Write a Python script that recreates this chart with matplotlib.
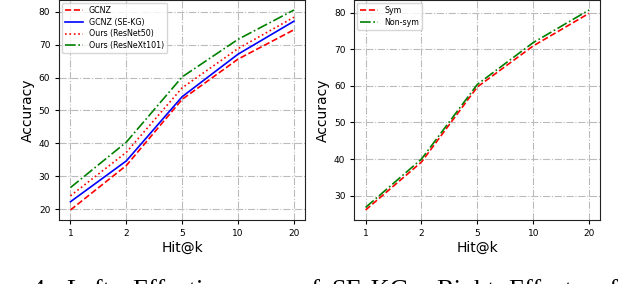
import matplotlib.pyplot as plt

hits = ['1', '2', '5', '10', '20']

gcnz = [19.8, 33.3, 53.4, 65.6, 74.5]
gcnz_sekg = [22.3, 34.7, 54.2, 67.1, 77.1]
ours_r50 = [24.1, 37.3, 56.9, 68.8, 78.3]
ours_rx101 = [26.6, 40.4, 60.2, 71.6, 80.5]

sym = [26.1, 39.2, 59.7, 70.9, 79.8]
nonsym = [26.8, 40.0, 60.4, 71.8, 80.7]

caption_words = ['4.', 'Left:', 'Effectiveness', 'of', 'SE-KG.', 'Right:', 'Effect', 'of']

fig = plt.figure(figsize=(6.24, 2.84), dpi=100)
ax1 = fig.add_axes([0.095, 0.2254, 0.394, 0.7746])
ax2 = fig.add_axes([0.568, 0.2254, 0.394, 0.7746])

x = range(len(hits))
ax1.plot(x, gcnz, color='red', linestyle='--', lw=1.2, label='GCNZ')
ax1.plot(x, gcnz_sekg, color='blue', linestyle='-', lw=1.2, label='GCNZ (SE-KG)')
ax1.plot(x, ours_r50, color='red', linestyle=':', lw=1.2, label='Ours (ResNet50)')
ax1.plot(x, ours_rx101, color='green', linestyle='-.', lw=1.2, label='Ours (ResNeXt101)')

ax2.plot(x, sym, color='red', linestyle='--', lw=1.2, label='Sym')
ax2.plot(x, nonsym, color='green', linestyle='-.', lw=1.2, label='Non-sym')

for ax in (ax1, ax2):
    ax.set_xticks(list(x))
    ax.set_xticklabels(hits)
    ax.tick_params(labelsize=6.5, length=3, width=0.8)
    ax.grid(True, linestyle='-.', color='#bbbbbb', lw=0.8)
    ax.set_xlabel('Hit@k', fontsize=10, labelpad=2)
    ax.set_ylabel('Accuracy', fontsize=10, labelpad=3)
    ax.legend(loc='upper left', fontsize=5.7, handlelength=2.2, borderaxespad=0.35,
              labelspacing=0.35)
    for s in ax.spines.values():
        s.set_color('#222222')

# caption below the figure, only its top shows (justified word spacing)
word_x = [32, 66, 132, 298, 331, 436, 508, 596]
for w, px in zip(caption_words, word_x):
    fig.text(px / 624, -0.047, w, family='Liberation Serif', fontsize=19,
             va='baseline', ha='left')

fig.savefig('out.png', dpi=100)
